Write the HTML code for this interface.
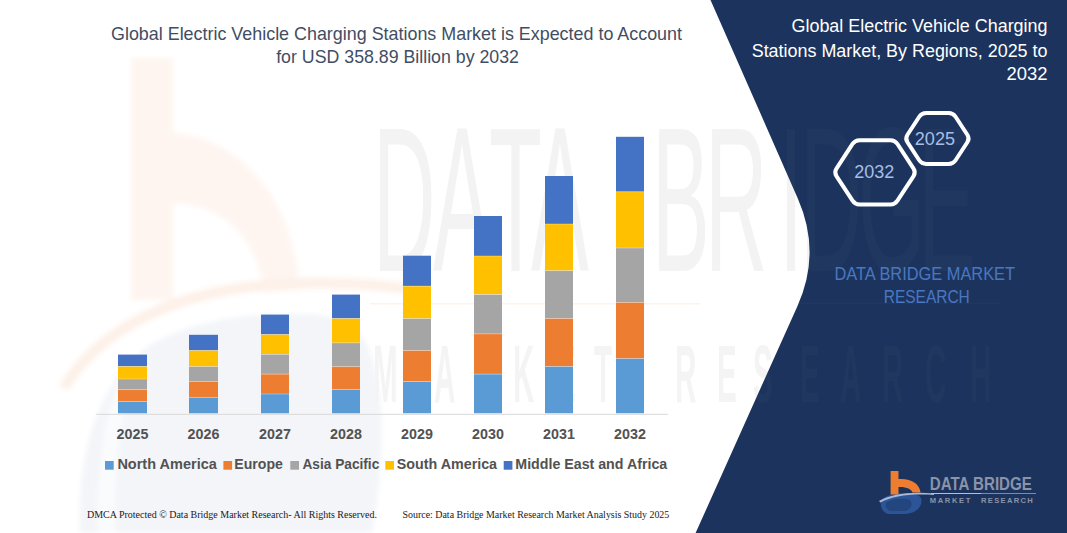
<!DOCTYPE html>
<html><head><meta charset="utf-8"><title>EV Charging Stations Market</title>
<style>
html,body{margin:0;padding:0;background:#fff;}
body{width:1067px;height:533px;overflow:hidden;position:relative;font-family:"Liberation Sans",sans-serif;}
svg{position:absolute;left:0;top:0;display:block;}
</style></head><body>
<svg width="1067" height="533" viewBox="0 0 1067 533">
<rect x="0" y="0" width="1067" height="533" fill="#ffffff"/>

<defs><filter id="blur2" x="-10%" y="-10%" width="120%" height="120%"><feGaussianBlur stdDeviation="2.5"/></filter></defs>
<g id="wm" filter="url(#blur2)">
 <path d="M131 58 H173 V133 C235 138 292 190 300 290 L264 292 C258 240 225 205 173 203 V300 H131 Z" fill="#FEF5F0"/>
 <path d="M64 388 C95 335 160 300 240 288 C300 280 360 282 420 290" fill="none" stroke="#FDF1E9" stroke-width="11"/>
 <path d="M80 533 C76 450 100 380 150 345 C200 315 280 308 340 318 C380 330 392 420 372 533 Z" fill="#F3F5F9"/>
 <path d="M98 533 C96 470 104 420 118 385 L132 380 C120 420 114 470 116 533 Z" fill="#FAFBFD"/>
</g>

<g font-family="Liberation Sans" font-size="206" fill="#F3F3F3">
<text transform="translate(373,271) scale(0.42,1)" x="0" y="0">D</text>
<text transform="translate(433,271) scale(0.42,1)" x="0" y="0">A</text>
<text transform="translate(489,271) scale(0.42,1)" x="0" y="0">T</text>
<text transform="translate(531,271) scale(0.42,1)" x="0" y="0">A</text>
<text transform="translate(652,271) scale(0.42,1)" x="0" y="0">B</text>
<text transform="translate(705,271) scale(0.42,1)" x="0" y="0">R</text>
<text transform="translate(779,271) scale(0.42,1)" x="0" y="0">I</text>
<text transform="translate(800,271) scale(0.42,1)" x="0" y="0">D</text>
<text transform="translate(858,271) scale(0.42,1)" x="0" y="0">G</text>
<text transform="translate(918,271) scale(0.42,1)" x="0" y="0">E</text>
</g>
<g font-family="Liberation Sans" font-weight="bold" font-size="82" fill="#F4F4F4">
<text transform="translate(373,402) scale(0.36,1)" x="0" y="0">M</text>
<text transform="translate(434,402) scale(0.36,1)" x="0" y="0">A</text>
<text transform="translate(476,402) scale(0.36,1)" x="0" y="0">R</text>
<text transform="translate(513,402) scale(0.36,1)" x="0" y="0">K</text>
<text transform="translate(556,402) scale(0.36,1)" x="0" y="0">E</text>
<text transform="translate(594,402) scale(0.36,1)" x="0" y="0">T</text>
<text transform="translate(675,402) scale(0.36,1)" x="0" y="0">R</text>
<text transform="translate(717,402) scale(0.36,1)" x="0" y="0">E</text>
<text transform="translate(753,402) scale(0.36,1)" x="0" y="0">S</text>
<text transform="translate(800,402) scale(0.36,1)" x="0" y="0">E</text>
<text transform="translate(840,402) scale(0.36,1)" x="0" y="0">A</text>
<text transform="translate(882,402) scale(0.36,1)" x="0" y="0">R</text>
<text transform="translate(925,402) scale(0.36,1)" x="0" y="0">C</text>
<text transform="translate(970,402) scale(0.36,1)" x="0" y="0">H</text>
</g>
<rect x="370" y="303" width="330" height="1.5" fill="#FDF3EC"/>
<g id="bars">
<rect x="118" y="354.6" width="29" height="11.8" fill="#4472C4"/>
<rect x="118" y="366.4" width="29" height="12.6" fill="#FFC000"/>
<rect x="118" y="379.0" width="29" height="10.7" fill="#A5A5A5"/>
<rect x="118" y="389.7" width="29" height="11.8" fill="#ED7D31"/>
<rect x="118" y="401.5" width="29" height="11.8" fill="#5B9BD5"/>
<rect x="189" y="334.8" width="29" height="15.7" fill="#4472C4"/>
<rect x="189" y="350.5" width="29" height="16.1" fill="#FFC000"/>
<rect x="189" y="366.6" width="29" height="15.0" fill="#A5A5A5"/>
<rect x="189" y="381.6" width="29" height="15.7" fill="#ED7D31"/>
<rect x="189" y="397.3" width="29" height="16.0" fill="#5B9BD5"/>
<rect x="261" y="314.6" width="28" height="19.9" fill="#4472C4"/>
<rect x="261" y="334.5" width="28" height="19.8" fill="#FFC000"/>
<rect x="261" y="354.3" width="28" height="19.8" fill="#A5A5A5"/>
<rect x="261" y="374.1" width="28" height="19.9" fill="#ED7D31"/>
<rect x="261" y="394.0" width="28" height="19.3" fill="#5B9BD5"/>
<rect x="332" y="294.6" width="28" height="23.9" fill="#4472C4"/>
<rect x="332" y="318.5" width="28" height="24.4" fill="#FFC000"/>
<rect x="332" y="342.9" width="28" height="23.8" fill="#A5A5A5"/>
<rect x="332" y="366.7" width="28" height="22.9" fill="#ED7D31"/>
<rect x="332" y="389.6" width="28" height="23.7" fill="#5B9BD5"/>
<rect x="403" y="255.7" width="28" height="30.4" fill="#4472C4"/>
<rect x="403" y="286.1" width="28" height="32.5" fill="#FFC000"/>
<rect x="403" y="318.6" width="28" height="31.9" fill="#A5A5A5"/>
<rect x="403" y="350.5" width="28" height="31.0" fill="#ED7D31"/>
<rect x="403" y="381.5" width="28" height="31.8" fill="#5B9BD5"/>
<rect x="474" y="216.0" width="28" height="40.0" fill="#4472C4"/>
<rect x="474" y="256.0" width="28" height="38.5" fill="#FFC000"/>
<rect x="474" y="294.5" width="28" height="39.4" fill="#A5A5A5"/>
<rect x="474" y="333.9" width="28" height="40.2" fill="#ED7D31"/>
<rect x="474" y="374.1" width="28" height="39.2" fill="#5B9BD5"/>
<rect x="545" y="176.0" width="28" height="48.0" fill="#4472C4"/>
<rect x="545" y="224.0" width="28" height="46.7" fill="#FFC000"/>
<rect x="545" y="270.7" width="28" height="47.8" fill="#A5A5A5"/>
<rect x="545" y="318.5" width="28" height="48.0" fill="#ED7D31"/>
<rect x="545" y="366.5" width="28" height="46.8" fill="#5B9BD5"/>
<rect x="616" y="136.8" width="28" height="55.0" fill="#4472C4"/>
<rect x="616" y="191.8" width="28" height="56.2" fill="#FFC000"/>
<rect x="616" y="248.0" width="28" height="54.4" fill="#A5A5A5"/>
<rect x="616" y="302.4" width="28" height="56.2" fill="#ED7D31"/>
<rect x="616" y="358.6" width="28" height="54.7" fill="#5B9BD5"/>
<rect x="118" y="366.05" width="29" height="0.7" fill="#FFFFFF" fill-opacity="0.45"/>
<rect x="118" y="378.65" width="29" height="0.7" fill="#FFFFFF" fill-opacity="0.45"/>
<rect x="118" y="389.35" width="29" height="0.7" fill="#FFFFFF" fill-opacity="0.45"/>
<rect x="118" y="401.15" width="29" height="0.7" fill="#FFFFFF" fill-opacity="0.45"/>
<rect x="189" y="350.15" width="29" height="0.7" fill="#FFFFFF" fill-opacity="0.45"/>
<rect x="189" y="366.25" width="29" height="0.7" fill="#FFFFFF" fill-opacity="0.45"/>
<rect x="189" y="381.25" width="29" height="0.7" fill="#FFFFFF" fill-opacity="0.45"/>
<rect x="189" y="396.95" width="29" height="0.7" fill="#FFFFFF" fill-opacity="0.45"/>
<rect x="261" y="334.15" width="28" height="0.7" fill="#FFFFFF" fill-opacity="0.45"/>
<rect x="261" y="353.95" width="28" height="0.7" fill="#FFFFFF" fill-opacity="0.45"/>
<rect x="261" y="373.75" width="28" height="0.7" fill="#FFFFFF" fill-opacity="0.45"/>
<rect x="261" y="393.65" width="28" height="0.7" fill="#FFFFFF" fill-opacity="0.45"/>
<rect x="332" y="318.15" width="28" height="0.7" fill="#FFFFFF" fill-opacity="0.45"/>
<rect x="332" y="342.55" width="28" height="0.7" fill="#FFFFFF" fill-opacity="0.45"/>
<rect x="332" y="366.35" width="28" height="0.7" fill="#FFFFFF" fill-opacity="0.45"/>
<rect x="332" y="389.25" width="28" height="0.7" fill="#FFFFFF" fill-opacity="0.45"/>
<rect x="403" y="285.75" width="28" height="0.7" fill="#FFFFFF" fill-opacity="0.45"/>
<rect x="403" y="318.25" width="28" height="0.7" fill="#FFFFFF" fill-opacity="0.45"/>
<rect x="403" y="350.15" width="28" height="0.7" fill="#FFFFFF" fill-opacity="0.45"/>
<rect x="403" y="381.15" width="28" height="0.7" fill="#FFFFFF" fill-opacity="0.45"/>
<rect x="474" y="255.65" width="28" height="0.7" fill="#FFFFFF" fill-opacity="0.45"/>
<rect x="474" y="294.15" width="28" height="0.7" fill="#FFFFFF" fill-opacity="0.45"/>
<rect x="474" y="333.55" width="28" height="0.7" fill="#FFFFFF" fill-opacity="0.45"/>
<rect x="474" y="373.75" width="28" height="0.7" fill="#FFFFFF" fill-opacity="0.45"/>
<rect x="545" y="223.65" width="28" height="0.7" fill="#FFFFFF" fill-opacity="0.45"/>
<rect x="545" y="270.35" width="28" height="0.7" fill="#FFFFFF" fill-opacity="0.45"/>
<rect x="545" y="318.15" width="28" height="0.7" fill="#FFFFFF" fill-opacity="0.45"/>
<rect x="545" y="366.15" width="28" height="0.7" fill="#FFFFFF" fill-opacity="0.45"/>
<rect x="616" y="191.45" width="28" height="0.7" fill="#FFFFFF" fill-opacity="0.45"/>
<rect x="616" y="247.65" width="28" height="0.7" fill="#FFFFFF" fill-opacity="0.45"/>
<rect x="616" y="302.05" width="28" height="0.7" fill="#FFFFFF" fill-opacity="0.45"/>
<rect x="616" y="358.25" width="28" height="0.7" fill="#FFFFFF" fill-opacity="0.45"/>
</g>
<rect x="96" y="413.8" width="572" height="1" fill="#D9D9D9"/>
<g font-family="Liberation Sans" font-weight="bold" font-size="14.3" fill="#525252" text-anchor="middle">
<text x="132.5" y="438.8">2025</text>
<text x="203.5" y="438.8">2026</text>
<text x="275.0" y="438.8">2027</text>
<text x="346.0" y="438.8">2028</text>
<text x="417.0" y="438.8">2029</text>
<text x="488.0" y="438.8">2030</text>
<text x="559.0" y="438.8">2031</text>
<text x="630.0" y="438.8">2032</text>
</g>
<g font-family="Liberation Sans" font-weight="bold" font-size="14.2" fill="#525252">
<rect x="105" y="461" width="8.7" height="8.7" fill="#5B9BD5"/>
<text x="117.4" y="468.8" textLength="99.4" lengthAdjust="spacingAndGlyphs">North America</text>
<rect x="223.4" y="461" width="8.7" height="8.7" fill="#ED7D31"/>
<text x="234.3" y="468.8" textLength="48.6" lengthAdjust="spacingAndGlyphs">Europe</text>
<rect x="290.3" y="461" width="8.7" height="8.7" fill="#A5A5A5"/>
<text x="302.4" y="468.8" textLength="76.9" lengthAdjust="spacingAndGlyphs">Asia Pacific</text>
<rect x="385.3" y="461" width="8.7" height="8.7" fill="#FFC000"/>
<text x="396.7" y="468.8" textLength="100.4" lengthAdjust="spacingAndGlyphs">South America</text>
<rect x="503.7" y="461" width="8.7" height="8.7" fill="#4472C4"/>
<text x="515.3" y="468.8" textLength="151.9" lengthAdjust="spacingAndGlyphs">Middle East and Africa</text>
</g>
<g font-family="Liberation Sans" font-size="18.2" fill="#3F4E64">
<text x="111" y="39.6" textLength="571" lengthAdjust="spacingAndGlyphs">Global Electric Vehicle Charging Stations Market is Expected to Account</text>
<text x="276.2" y="63.4" textLength="242.8" lengthAdjust="spacingAndGlyphs">for USD 358.89 Billion by 2032</text>
</g>
<g font-family="Liberation Serif" font-size="10.7" fill="#1a1a1a">
<text x="87" y="518.3" textLength="290" lengthAdjust="spacingAndGlyphs">DMCA Protected © Data Bridge Market Research-  All Rights Reserved.</text>
<text x="402.5" y="518.3" textLength="266.8" lengthAdjust="spacingAndGlyphs">Source: Data Bridge Market Research  Market Analysis Study 2025</text>
</g>
<path d="M710.5 0 L797.8 198.4 Q821.6 252.4 797.4 306.2 L695.6 533 L1067 533 L1067 0 Z" fill="#1C345D"/>
<clipPath id="navyclip"><path d="M710.5 0 L797.8 198.4 Q821.6 252.4 797.4 306.2 L695.6 533 L1067 533 L1067 0 Z"/></clipPath>
<g clip-path="url(#navyclip)" fill="#FFFFFF" fill-opacity="0.018" font-family="Liberation Sans">
<text transform="translate(373,271) scale(0.42,1)" font-size="206">D</text>
<text transform="translate(433,271) scale(0.42,1)" font-size="206">A</text>
<text transform="translate(489,271) scale(0.42,1)" font-size="206">T</text>
<text transform="translate(531,271) scale(0.42,1)" font-size="206">A</text>
<text transform="translate(652,271) scale(0.42,1)" font-size="206">B</text>
<text transform="translate(705,271) scale(0.42,1)" font-size="206">R</text>
<text transform="translate(779,271) scale(0.42,1)" font-size="206">I</text>
<text transform="translate(800,271) scale(0.42,1)" font-size="206">D</text>
<text transform="translate(858,271) scale(0.42,1)" font-size="206">G</text>
<text transform="translate(918,271) scale(0.42,1)" font-size="206">E</text>
<text transform="translate(373,402) scale(0.36,1)" font-size="82" font-weight="bold">M</text>
<text transform="translate(434,402) scale(0.36,1)" font-size="82" font-weight="bold">A</text>
<text transform="translate(476,402) scale(0.36,1)" font-size="82" font-weight="bold">R</text>
<text transform="translate(513,402) scale(0.36,1)" font-size="82" font-weight="bold">K</text>
<text transform="translate(556,402) scale(0.36,1)" font-size="82" font-weight="bold">E</text>
<text transform="translate(594,402) scale(0.36,1)" font-size="82" font-weight="bold">T</text>
<text transform="translate(675,402) scale(0.36,1)" font-size="82" font-weight="bold">R</text>
<text transform="translate(717,402) scale(0.36,1)" font-size="82" font-weight="bold">E</text>
<text transform="translate(753,402) scale(0.36,1)" font-size="82" font-weight="bold">S</text>
<text transform="translate(800,402) scale(0.36,1)" font-size="82" font-weight="bold">E</text>
<text transform="translate(840,402) scale(0.36,1)" font-size="82" font-weight="bold">A</text>
<text transform="translate(882,402) scale(0.36,1)" font-size="82" font-weight="bold">R</text>
<text transform="translate(925,402) scale(0.36,1)" font-size="82" font-weight="bold">C</text>
<text transform="translate(970,402) scale(0.36,1)" font-size="82" font-weight="bold">H</text>
<rect x="790" y="302.5" width="210" height="2" />
</g>
<g font-family="Liberation Sans" font-size="18.3" fill="#FFFFFF" text-anchor="end">
<text x="1047.5" y="32" textLength="256" lengthAdjust="spacingAndGlyphs">Global Electric Vehicle Charging</text>
<text x="1047.5" y="56.6" textLength="295.8" lengthAdjust="spacingAndGlyphs">Stations Market, By Regions, 2025 to</text>
<text x="1047.5" y="80" textLength="41" lengthAdjust="spacingAndGlyphs">2032</text>
</g>
<path d="M907.47 134.74 L919.23 116.76 Q921.70 113.00 926.20 113.00 L948.60 113.00 Q953.10 113.00 955.57 116.76 L967.33 134.74 Q969.80 138.50 967.33 142.26 L955.57 160.24 Q953.10 164.00 948.60 164.00 L926.20 164.00 Q921.70 164.00 919.23 160.24 L907.47 142.26 Q905.00 138.50 907.47 134.74 Z" fill="none" stroke="#FFFFFF" stroke-width="4.0"/>
<path d="M836.46 168.53 L852.54 143.97 Q855.00 140.20 859.50 140.20 L890.50 140.20 Q895.00 140.20 897.46 143.97 L913.54 168.53 Q916.00 172.30 913.54 176.07 L897.46 200.63 Q895.00 204.40 890.50 204.40 L859.50 204.40 Q855.00 204.40 852.54 200.63 L836.46 176.07 Q834.00 172.30 836.46 168.53 Z" fill="none" stroke="#FFFFFF" stroke-width="4.0"/>
<g font-family="Liberation Sans" font-size="18" fill="#A6BEE8">
<text x="914.8" y="144.7" textLength="40.2" lengthAdjust="spacingAndGlyphs">2025</text>
<text x="854.3" y="178.3" textLength="40" lengthAdjust="spacingAndGlyphs">2032</text>
</g>
<g font-family="Liberation Sans" font-size="18.5" fill="#4A77C0">
<text x="834.5" y="279.9" textLength="180.5" lengthAdjust="spacingAndGlyphs">DATA BRIDGE MARKET</text>
<text x="883.8" y="303.4" textLength="86" lengthAdjust="spacingAndGlyphs">RESEARCH</text>
</g>
<g id="logo">
 <path d="M881 501 C883 496 895 493 905 493 C914 493 921 495 921.5 500 C922 508 915 514 903 514 L888 514 C882 512 880 506 881 501 Z" fill="#2C5597"/>
 <path d="M886 503 C890 499 900 498 908 499 C913 501 913 508 906 511 L890 511 C886 509 885 506 886 503 Z" fill="#23467F"/>
 <path d="M890.6 471 H898.5 V479 C911 478 920 484 920.5 492.5 L912.5 492.5 C911.5 489 906 486.5 898.5 487 V494.5 H890.6 Z" fill="#ED7D31"/>
 <path d="M879 501 C892 494 910 491.5 934 493.5 L934 495 C910 493.5 893 496 880.5 502.5 Z" fill="#A9B9D6"/>
 <text x="929.8" y="490.3" font-family="Liberation Sans" font-weight="bold" font-size="17.5" fill="#8A93A8" textLength="102" lengthAdjust="spacingAndGlyphs">DATA BRIDGE</text>
 <rect x="931" y="493" width="50" height="1" fill="#C9B9C0"/>
 <rect x="981" y="493" width="55" height="1" fill="#6F8CC0"/>
 <text x="929.8" y="502.7" font-family="Liberation Sans" font-weight="bold" font-size="7.6" fill="#8A93A8" textLength="40.5" lengthAdjust="spacing">MARKET</text>
 <text x="981" y="502.7" font-family="Liberation Sans" font-weight="bold" font-size="7.6" fill="#8A93A8" textLength="51.8" lengthAdjust="spacing">RESEARCH</text>
</g>
</svg>
</body></html>
